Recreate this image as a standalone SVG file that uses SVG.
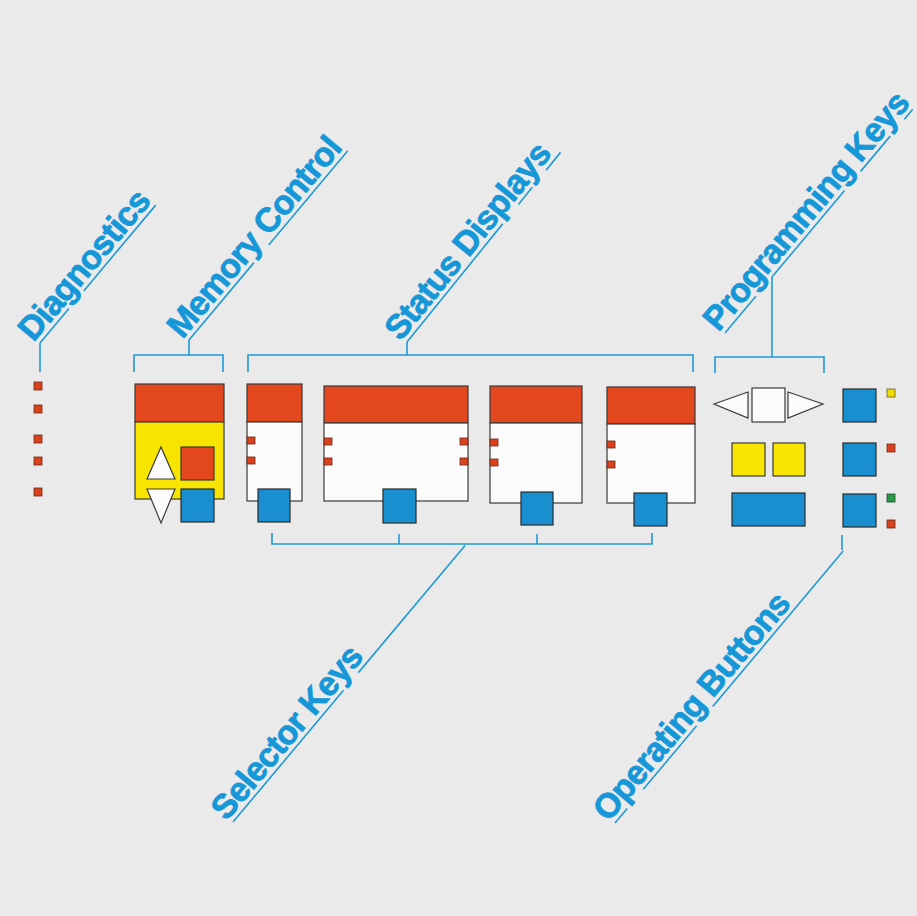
<svg xmlns="http://www.w3.org/2000/svg" width="917" height="916" viewBox="0 0 917 916">
<defs>
<style>
.ln{fill:none;stroke:#1e9ad8;stroke-width:1.6}
.lbl{font-family:"Liberation Sans",Arial,sans-serif;font-weight:bold;font-size:34px;letter-spacing:-0.8px;fill:#1597d8;stroke:#1597d8;stroke-width:0.8;stroke-linejoin:round}
.red{fill:#e3471d;stroke:#3a3a3a;stroke-width:1.2}
.wht{fill:#fbfbfb;stroke:#3a3a3a;stroke-width:1.2}
.yel{fill:#f7e500;stroke:#3a3a3a;stroke-width:1.2}
.blu{fill:#1a8fd0;stroke:#2a2a2a;stroke-width:1.2}
.ledr{fill:#d9421c;stroke:#6a2a1a;stroke-width:0.8}
.ledy{fill:#f0e000;stroke:#6a5a1a;stroke-width:0.8}
.ledg{fill:#2a9a4a;stroke:#1a4a2a;stroke-width:0.8}
</style>
</defs>
<rect x="0" y="0" width="917" height="916" fill="#ebeaea"/>

<g id="connectors">
<path class="ln" d="M40,372 V343"/>
<path class="ln" transform="translate(40,343) rotate(-50)" d="M0,0H45 M68,0H180"/>
<path class="ln" d="M134,372 V355 H223 V372 M189,355 V340"/>
<path class="ln" transform="translate(189,340) rotate(-50)" d="M0,0H101 M124,0H247"/>
<path class="ln" d="M248,372 V355 H693 V372 M407,355 V342"/>
<path class="ln" transform="translate(407,342) rotate(-51)" d="M0,0H152 M177,0H199 M221,0H244"/>
<path class="ln" d="M715,373 V357 H824 V373 M772,357 V277"/>
<path class="ln" transform="translate(725,333) rotate(-50)" d="M0,0H48 M73,0H186 M211,0H257 M279,0H292"/>
<path class="ln" d="M272,533 V544 H652 V533 M399,534 V544 M537,534 V544"/>
<path class="ln" transform="translate(233,822) rotate(-50)" d="M0,0H172 M195,0H361"/>
<path class="ln" d="M842,535 V550"/>
<path class="ln" transform="translate(615,823) rotate(-50)" d="M0,0H19 M44,0H127 M152,0H355"/>
</g>

<g id="diagnostics">
<rect class="ledr" x="34" y="382" width="8" height="8"/>
<rect class="ledr" x="34" y="405" width="8" height="8"/>
<rect class="ledr" x="34" y="435" width="8" height="8"/>
<rect class="ledr" x="34" y="457" width="8" height="8"/>
<rect class="ledr" x="34" y="488" width="8" height="8"/>
</g>

<g id="memory-control">
<rect class="red" x="135" y="384" width="89" height="38"/>
<rect class="yel" x="135" y="422" width="89" height="77"/>
<polygon class="wht" points="161,447 175,479 147,479"/>
<rect class="red" x="181" y="447" width="33" height="33"/>
<polygon class="wht" points="147,489 175,489 161,523"/>
<rect class="blu" x="181" y="489" width="33" height="33"/>
</g>

<g id="status-display-1">
<rect class="red" x="247" y="384" width="55" height="38"/>
<rect class="wht" x="247" y="422" width="55" height="79"/>
<rect class="ledr" x="247" y="437" width="8" height="7"/>
<rect class="ledr" x="247" y="457" width="8" height="7"/>
<rect class="blu" x="258" y="489" width="32" height="33"/>
</g>

<g id="status-display-2">
<rect class="red" x="324" y="386" width="144" height="37"/>
<rect class="wht" x="324" y="423" width="144" height="78"/>
<rect class="ledr" x="324" y="438" width="8" height="7"/>
<rect class="ledr" x="324" y="458" width="8" height="7"/>
<rect class="ledr" x="460" y="438" width="8" height="7"/>
<rect class="ledr" x="460" y="458" width="8" height="7"/>
<rect class="blu" x="383" y="489" width="33" height="34"/>
</g>

<g id="status-display-3">
<rect class="red" x="490" y="386" width="92" height="37"/>
<rect class="wht" x="490" y="423" width="92" height="80"/>
<rect class="ledr" x="490" y="439" width="8" height="7"/>
<rect class="ledr" x="490" y="459" width="8" height="7"/>
<rect class="blu" x="521" y="492" width="32" height="33"/>
</g>

<g id="status-display-4">
<rect class="red" x="607" y="387" width="88" height="37"/>
<rect class="wht" x="607" y="424" width="88" height="79"/>
<rect class="ledr" x="607" y="441" width="8" height="7"/>
<rect class="ledr" x="607" y="461" width="8" height="7"/>
<rect class="blu" x="634" y="493" width="33" height="33"/>
</g>

<g id="programming-keys">
<polygon class="wht" points="714,404 748,392 748,418"/>
<rect class="wht" x="752" y="388" width="33" height="34"/>
<polygon class="wht" points="788,392 788,418 823,404"/>
<rect class="yel" x="732" y="443" width="33" height="33"/>
<rect class="yel" x="773" y="443" width="32" height="33"/>
<rect class="blu" x="732" y="493" width="73" height="33"/>
</g>

<g id="operating-buttons">
<rect class="blu" x="843" y="389" width="33" height="33"/>
<rect class="blu" x="843" y="443" width="33" height="33"/>
<rect class="blu" x="843" y="494" width="33" height="33"/>
<rect class="ledy" x="887" y="389" width="8" height="8"/>
<rect class="ledr" x="887" y="444" width="8" height="8"/>
<rect class="ledg" x="887" y="494" width="8" height="8"/>
<rect class="ledr" x="887" y="520" width="8" height="8"/>
</g>

<g id="labels">
<text class="lbl" transform="translate(40,343) rotate(-50)" x="-4" y="-5">Diagnostics</text>
<text class="lbl" transform="translate(189,340) rotate(-50)" x="-4" y="-5">Memory Control</text>
<text class="lbl" transform="translate(407,342) rotate(-51)" x="-4" y="-5">Status Displays</text>
<text class="lbl" transform="translate(725,333) rotate(-50)" x="-4" y="-5">Programming Keys</text>
<text class="lbl" transform="translate(233,822) rotate(-50)" x="-4" y="-5">Selector Keys</text>
<text class="lbl" transform="translate(615,823) rotate(-50)" x="-4" y="-5">Operating Buttons</text>
</g>
</svg>
